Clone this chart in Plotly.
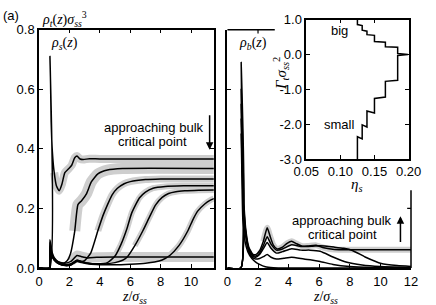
import plotly.graph_objects as go

# ---------------- data: left panel rho_s(z) ----------------
z_s1 = [0, 0.70, 0.72, 0.76, 0.80, 0.88, 1.0, 1.15, 1.33, 1.5, 1.7, 1.95, 2.15, 2.35, 2.5, 2.7, 2.9, 3.3, 4.0, 11.5]
r_s1 = [0, 0, 0.71, 0.62, 0.49, 0.39, 0.32, 0.275, 0.259, 0.28, 0.32, 0.333, 0.345, 0.37, 0.376, 0.366, 0.364, 0.367, 0.366, 0.366]

z_s2 = [0, 0.70, 0.72, 0.85, 1.0, 1.3, 1.6, 1.85, 2.07, 2.35, 2.56, 2.8, 3.13, 3.44, 3.87, 4.5, 5.5, 11.5]
r_s2 = [0, 0, 0.095, 0.055, 0.035, 0.02, 0.016, 0.024, 0.048, 0.124, 0.213, 0.226, 0.25, 0.289, 0.316, 0.329, 0.334, 0.334]

z_s3 = [0, 0.70, 0.72, 0.85, 1.0, 1.3, 1.7, 2.1, 2.5, 2.8, 3.0, 3.4, 3.87, 4.2, 4.5, 4.8, 5.14, 5.6, 6.0, 7.0, 8.0, 11.5]
r_s3 = [0, 0, 0.085, 0.05, 0.032, 0.018, 0.012, 0.014, 0.026, 0.022, 0.025, 0.05, 0.125, 0.175, 0.212, 0.245, 0.267, 0.283, 0.29, 0.297, 0.299, 0.299]

z_s4 = [0, 0.70, 0.72, 0.85, 1.0, 1.3, 1.7, 2.1, 2.5, 2.8, 3.2, 3.8, 4.5, 5.0, 5.4, 5.77, 6.1, 6.6, 7.0, 7.5, 8.3, 9.5, 11.5]
r_s4 = [0, 0, 0.075, 0.045, 0.03, 0.016, 0.01, 0.012, 0.026, 0.022, 0.017, 0.014, 0.018, 0.04, 0.08, 0.13, 0.185, 0.235, 0.255, 0.268, 0.274, 0.276, 0.276]

z_s5 = [0, 0.70, 0.72, 0.85, 1.0, 1.3, 1.7, 2.1, 2.5, 2.8, 3.3, 4.0, 5.0, 5.5, 5.77, 6.3, 6.83, 7.3, 7.67, 8.1, 8.52, 9.0, 9.58, 10.5, 11.5]
r_s5 = [0, 0, 0.07, 0.042, 0.028, 0.015, 0.009, 0.011, 0.024, 0.02, 0.015, 0.013, 0.018, 0.026, 0.035, 0.075, 0.125, 0.175, 0.212, 0.237, 0.25, 0.256, 0.259, 0.261, 0.262]

z_s6 = [0, 0.70, 0.72, 0.85, 1.0, 1.3, 1.7, 2.1, 2.5, 2.8, 3.3, 4.0, 5.0, 6.0, 7.0, 7.6, 8.1, 8.6, 9.2, 9.79, 10.1, 10.42, 10.9, 11.27, 11.5]
r_s6 = [0, 0, 0.065, 0.04, 0.026, 0.014, 0.008, 0.01, 0.022, 0.018, 0.013, 0.011, 0.011, 0.013, 0.016, 0.02, 0.027, 0.042, 0.075, 0.125, 0.16, 0.19, 0.215, 0.228, 0.233]

z_s7 = [0, 0.70, 0.72, 0.85, 1.0, 1.3, 1.7, 2.1, 2.5, 2.8, 3.2, 3.8, 5.0, 11.5]
r_s7 = [0, 0, 0.058, 0.04, 0.03, 0.02, 0.016, 0.022, 0.042, 0.038, 0.034, 0.036, 0.037, 0.037]

# ---------------- data: right panel rho_b(z) ----------------
z_bA = [0, 0.88, 0.90, 0.95, 1.05, 1.2, 1.4, 1.65, 1.85, 2.1, 2.35, 2.6, 2.8, 3.0, 3.25, 3.6, 3.9, 4.2, 4.5, 4.9, 5.3, 5.8, 6.3, 7.0, 8.0, 12]
r_bA = [0, 0, 0.69, 0.45, 0.25, 0.13, 0.07, 0.047, 0.045, 0.058, 0.09, 0.135, 0.105, 0.077, 0.064, 0.07, 0.083, 0.09, 0.082, 0.073, 0.074, 0.076, 0.068, 0.062, 0.061, 0.061]

z_bB = [0, 0.88, 0.90, 0.95, 1.05, 1.2, 1.4, 1.65, 1.85, 2.1, 2.35, 2.6, 2.85, 3.2, 3.6, 4.2, 4.8, 5.5, 6.06, 7.0, 7.6, 8.17, 9.0, 10.06, 11.1, 12]
r_bB = [0, 0, 0.6, 0.42, 0.23, 0.12, 0.065, 0.043, 0.04, 0.05, 0.075, 0.105, 0.08, 0.06, 0.064, 0.078, 0.072, 0.073, 0.075, 0.07, 0.066, 0.059, 0.037, 0.015, 0.008, 0.005]

z_bC = [0, 0.88, 0.90, 0.95, 1.05, 1.2, 1.4, 1.65, 1.85, 2.1, 2.35, 2.6, 2.85, 3.2, 3.6, 4.2, 4.8, 5.4, 6.06, 6.9, 7.75, 8.8, 10, 12]
r_bC = [0, 0, 0.55, 0.40, 0.22, 0.115, 0.062, 0.04, 0.036, 0.045, 0.065, 0.086, 0.066, 0.05, 0.055, 0.065, 0.06, 0.06, 0.056, 0.037, 0.02, 0.01, 0.005, 0.002]

z_bD = [0, 0.88, 0.90, 0.95, 1.05, 1.2, 1.4, 1.65, 1.85, 2.1, 2.35, 2.6, 2.85, 3.2, 3.7, 4.2, 5.0, 5.5, 6.06, 6.9, 8.0, 9.5, 12]
r_bD = [0, 0, 0.5, 0.36, 0.2, 0.105, 0.055, 0.035, 0.03, 0.032, 0.038, 0.045, 0.036, 0.03, 0.033, 0.036, 0.03, 0.027, 0.022, 0.012, 0.005, 0.002, 0.001]

z_bE = [0, 0.88, 0.90, 0.95, 1.01, 1.15, 1.33, 1.6, 1.85, 2.1, 2.48, 3.0, 4.0, 12]
r_bE = [0, 0, 0.45, 0.30, 0.16, 0.09, 0.055, 0.032, 0.02, 0.012, 0.004, 0.001, 0.0, 0.0]

# ---------------- data: inset Gamma vs eta_s ----------------
eta_s = [0.125, 0.125, 0.132, 0.132, 0.139, 0.139, 0.150, 0.150, 0.166, 0.166, 0.184, 0.184, 0.199,
         0.184, 0.184, 0.166, 0.166, 0.150, 0.150, 0.139, 0.139, 0.132, 0.132, 0.125, 0.125]
gamma = [1.0, 0.86, 0.83, 0.70, 0.67, 0.57, 0.55, 0.37, 0.35, 0.22, 0.21, 0.03, 0.0,
         -0.03, -0.74, -0.77, -1.22, -1.26, -1.68, -1.62, -2.08, -2.02, -2.42, -2.36, -3.0]

x_ticks_left = [0, 2, 4, 6, 8, 10]
x_ticks_right = [0, 2, 4, 6, 8, 10, 12]
y_ticks = [0, 0.2, 0.4, 0.6, 0.8]
y_labels = ["0.0", "0.2", "0.4", "0.6", "0.8"]
inset_x_ticks = [0.05, 0.10, 0.15, 0.20]
inset_x_labels = ["0.05", "0.10", "0.15", "0.20"]
inset_y_ticks = [-3, -2, -1, 0, 1]
inset_y_labels = ["-3.0", "-2.0", "-1.0", "0.0", "1.0"]

GRAY = "#cecece"
fig = go.Figure()


def add(zs, rs, xa, ya, color, width, shape="spline"):
    line = dict(color=color, width=width, shape=shape)
    if shape == "spline":
        line["smoothing"] = 0.5
    fig.add_trace(go.Scatter(x=zs, y=rs, mode="lines", line=line, xaxis=xa, yaxis=ya,
                             hoverinfo="skip", showlegend=False))


def band(zs, rs, start, xa, ya, width):
    pts = [(z, r) for z, r in zip(zs, rs) if z >= start]
    add([p[0] for p in pts], [p[1] for p in pts], xa, ya, GRAY, width)


# gray bands (underneath)
band(z_s1, r_s1, 1.0, "x", "y", 8)
band(z_s2, r_s2, 2.3, "x", "y", 11)
band(z_s3, r_s3, 3.6, "x", "y", 7)
band(z_s4, r_s4, 5.0, "x", "y", 6)
band(z_s5, r_s5, 6.0, "x", "y", 6)
band(z_s6, r_s6, 8.5, "x", "y", 6)
band(z_s7, r_s7, 1.8, "x", "y", 10)
band(z_bA, r_bA, 2.2, "x2", "y2", 6)

for zs, rs in [(z_s7, r_s7), (z_s6, r_s6), (z_s5, r_s5), (z_s4, r_s4), (z_s3, r_s3), (z_s2, r_s2), (z_s1, r_s1)]:
    add(zs, rs, "x", "y", "black", 1.5)
for zs, rs in [(z_bE, r_bE), (z_bD, r_bD), (z_bC, r_bC), (z_bB, r_bB), (z_bA, r_bA)]:
    add(zs, rs, "x2", "y2", "black", 1.5)

add(eta_s, gamma, "x3", "y3", "black", 1.5, shape="linear")

ax = dict(showgrid=False, zeroline=False, showline=True, linecolor="black", linewidth=1.5,
          ticks="inside", ticklen=4, tickwidth=1.2, tickcolor="black")

fig.update_layout(
    width=436, height=305, autosize=False,
    margin=dict(l=39, r=12, t=12, b=37),
    plot_bgcolor="white", paper_bgcolor="white",
    font=dict(family="Liberation Sans, Arial, sans-serif", size=13, color="black"),
    xaxis=dict(ax, domain=[0, 0.4701], range=[0, 11.5], tickvals=x_ticks_left, mirror="ticks", anchor="y",
               ticklabelstandoff=1),
    yaxis=dict(ax, domain=[0, 0.957], range=[0, 0.8], tickvals=y_ticks, ticktext=y_labels, mirror="ticks", anchor="x"),
    xaxis2=dict(ax, domain=[0.5065, 1], range=[0, 12], tickvals=x_ticks_right, anchor="y2", ticklabelstandoff=1),
    yaxis2=dict(ax, domain=[0, 0.957], range=[0, 0.8], tickvals=y_ticks, showticklabels=False, anchor="x2"),
    xaxis3=dict(ax, domain=[0.7184, 0.9935], range=[0.05, 0.20], tickvals=inset_x_ticks, ticktext=inset_x_labels,
                mirror="ticks", anchor="y3"),
    yaxis3=dict(ax, domain=[0.4375, 0.9973], range=[-3, 1], tickvals=inset_y_ticks, ticktext=inset_y_labels,
                mirror="ticks", anchor="x3"),
)

# right panel frame pieces not hidden by the inset
shp = dict(type="line", line=dict(color="black", width=1.5))
fig.add_shape(shp, xref="paper", yref="paper", x0=0.5065, x1=0.6338, y0=0.957, y1=0.957)
fig.add_shape(shp, xref="paper", yref="paper", x0=1.0, x1=1.0, y0=0, y1=0.3125)
tk = dict(type="line", line=dict(color="black", width=1.2))
fig.add_shape(tk, xref="x2", yref="y2", x0=2, x1=2, y0=0.8, y1=0.787)
fig.add_shape(tk, xref="x2", yref="y2", x0=12, x1=11.75, y0=0.2, y1=0.2)

serif = dict(family="Liberation Serif, Times New Roman, serif", size=15, color="black")
C = dict(xanchor="center", yanchor="middle", showarrow=False)
ann = []
ann.append(dict(C, text="(a)", xref="paper", yref="paper", x=-0.0753, y=1.0156, font=dict(size=13)))
ann.append(dict(C, text="<i>ρ<sub>t</sub></i>(<i>z</i>)<i>σ<sub>ss</sub></i><sup>3</sup>", xref="paper",
                yref="paper", x=0.004, y=1.0, xanchor="left", font=dict(serif, size=14)))
ann.append(dict(C, text="<i>ρ<sub>s</sub></i>(<i>z</i>)", xref="x", yref="y", x=1.7, y=0.754,
                font=dict(serif, size=14)))
ann.append(dict(C, text="<i>ρ<sub>b</sub></i>(<i>z</i>)", xref="x2", yref="y2", x=1.66, y=0.754,
                font=dict(serif, size=14)))
ann.append(dict(C, text="approaching bulk", xref="x", yref="y", x=7.55, y=0.471))
ann.append(dict(C, text="critical point", xref="x", yref="y", x=7.48, y=0.424))
ann.append(dict(C, text="approaching bulk", xref="x2", yref="y2", x=7.52, y=0.16))
ann.append(dict(C, text="critical point", xref="x2", yref="y2", x=7.52, y=0.113))
ann.append(dict(text="", xref="x", yref="y", x=11.22, y=0.397, axref="x", ayref="y", ax=11.22, ay=0.518,
                showarrow=True, arrowhead=2, arrowsize=1, arrowwidth=1.5, arrowcolor="black"))
ann.append(dict(text="", xref="x2", yref="y2", x=11.31, y=0.174, axref="x2", ayref="y2", ax=11.31, ay=0.082,
                showarrow=True, arrowhead=2, arrowsize=1, arrowwidth=1.5, arrowcolor="black"))
ann.append(dict(C, text="<i>z</i>/<i>σ<sub>ss</sub></i>", xref="x", yref="paper", x=6.28, y=-0.12,
                font=dict(serif, size=14)))
ann.append(dict(C, text="<i>z</i>/<i>σ<sub>ss</sub></i>", xref="x2", yref="paper", x=6.38, y=-0.12,
                font=dict(serif, size=14)))
ann.append(dict(C, text="<i>η<sub>s</sub></i>", xref="x3", yref="paper", x=0.1242, y=0.332, font=serif))
ann.append(dict(C, text="<i>Γ<sub>t</sub>σ<sub>ss</sub></i><sup>2</sup>", xref="paper", yref="paper",
                x=0.649, y=0.781, textangle=-90, font=serif))
ann.append(dict(C, text="big", xref="x3", yref="y3", x=0.0987, y=0.686))
ann.append(dict(C, text="small", xref="x3", yref="y3", x=0.0987, y=-2.01))
fig.update_layout(annotations=ann)

fig.write_html("out.html", config={"responsive": False, "displayModeBar": False})
with open("out.html", "r", encoding="utf-8") as f:
    html = f.read()
html = html.replace("<head>", "<head><style>html,body{margin:0;padding:0;overflow:hidden;}</style>", 1)
with open("out.html", "w", encoding="utf-8") as f:
    f.write(html)
